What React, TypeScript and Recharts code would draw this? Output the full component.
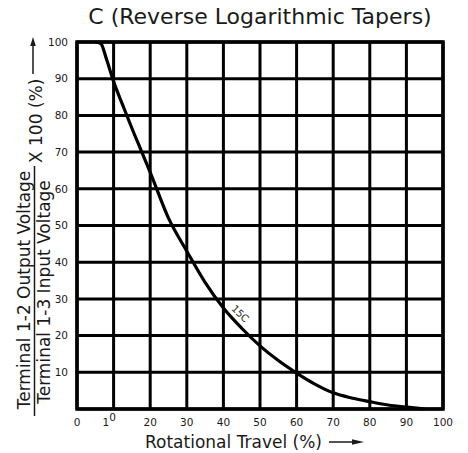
import React from "react";
import {
  LineChart,
  Line,
  XAxis,
  YAxis,
  CartesianGrid,
  ReferenceArea,
  ReferenceDot,
} from "recharts";

const travel = [5, 6.5, 8, 10, 12.5, 15, 17.5, 20, 25, 30, 35, 40, 45, 50, 55, 60, 65, 70, 75, 80, 85, 90, 95];
const output = [100, 99.6, 95.5, 89.2, 82.8, 76.5, 70.5, 64.5, 52, 43, 34.5, 27.5, 22, 17.2, 13.2, 9.8, 6.8, 4.4, 3.0, 2.0, 1.1, 0.5, 0];
const xTicks = [0, 10, 20, 30, 40, 50, 60, 70, 80, 90, 100];
const yTicks = [0, 10, 20, 30, 40, 50, 60, 70, 80, 90, 100];
const curveName = "15C";

const data = travel.map((x, i) => ({ x, y: output[i] }));

const FONT = "'DejaVu Sans', Verdana, sans-serif";
const INK = "#1a1a1a";

function XTick({ x, y, payload }: any) {
  if (payload.value === 10) {
    // the original prints this one as "1" with a raised "0"
    return (
      <text x={x - 11} y={y} dy="0.71em" fontSize={10.5} fontFamily={FONT} fill={INK}>
        1
        <tspan dy={-5}>0</tspan>
      </text>
    );
  }
  return (
    <text x={x} y={y} dy="0.71em" textAnchor="middle" fontSize={10.5} fontFamily={FONT} fill={INK}>
      {payload.value}
    </text>
  );
}

function YTick({ x, y, payload }: any) {
  if (payload.value === 0) return null;
  return (
    <text x={x} y={y} dy="0.355em" textAnchor="end" fontSize={10.5} fontFamily={FONT} fill={INK}>
      {payload.value}
    </text>
  );
}

function YLabel({ viewBox }: any) {
  const { x, y, height } = viewBox;
  const bottom = y + height;
  const t = (tx: number, ty: number) => `rotate(-90, ${tx}, ${ty})`;
  return (
    <g fontFamily={FONT} fontSize={17} fill={INK}>
      <text x={x + 13} y={bottom - 119} textAnchor="middle" transform={t(x + 13, bottom - 119)}>
        Terminal 1-2 Output Voltage
      </text>
      <line x1={x + 17.5} x2={x + 17.5} y1={bottom + 7} y2={bottom - 243} stroke={INK} strokeWidth={1.5} />
      <text x={x + 32.5} y={bottom - 117} textAnchor="middle" transform={t(x + 32.5, bottom - 117)}>
        Terminal 1-3 Input Voltage
      </text>
      <text x={x + 24.5} y={bottom - 246} textAnchor="start" transform={t(x + 24.5, bottom - 246)}>
        X 100 (%)
      </text>
      <line x1={x + 16} x2={x + 16} y1={y + 32} y2={y + 4} stroke={INK} strokeWidth={1.5} />
      <polygon points={`${x + 16},${y - 5} ${x + 13.2},${y + 4} ${x + 18.8},${y + 4}`} fill={INK} />
    </g>
  );
}

function XLabel({ viewBox }: any) {
  const { x, y } = viewBox;
  return (
    <g fontFamily={FONT} fill={INK}>
      <text x={x + 68} y={y + 39} fontSize={17}>
        Rotational Travel (%)
      </text>
      <line x1={x + 252} x2={x + 278} y1={y + 33} y2={y + 33} stroke={INK} strokeWidth={1.5} />
      <polygon points={`${x + 287},${y + 33} ${x + 275},${y + 30.3} ${x + 275},${y + 35.7}`} fill={INK} />
    </g>
  );
}

function CurveTag({ viewBox }: any) {
  const { x, y } = viewBox;
  return (
    <text
      x={x}
      y={y}
      textAnchor="middle"
      dominantBaseline="central"
      fontSize={10}
      fontFamily={FONT}
      fill={INK}
      transform={`rotate(44, ${x}, ${y})`}
    >
      {curveName}
    </text>
  );
}

export default function App() {
  return (
    <div style={{ position: "absolute", left: 0, top: 0, width: 468, height: 453, background: "#fff" }}>
      <div
        style={{
          position: "absolute",
          left: 77,
          width: 366,
          top: 6,
          textAlign: "center",
          fontFamily: FONT,
          fontSize: 22,
          lineHeight: "22px",
          color: INK,
          whiteSpace: "nowrap",
        }}
      >
        C (Reverse Logarithmic Tapers)
      </div>
      <LineChart width={468} height={453} data={data} margin={{ top: 42, right: 25, left: 17, bottom: 14 }}>
        <CartesianGrid stroke="#000" strokeWidth={3} />
        <XAxis
          type="number"
          dataKey="x"
          domain={[0, 100]}
          ticks={xTicks}
          height={30}
          axisLine={false}
          tickLine={false}
          tickSize={0}
          tickMargin={10}
          tick={XTick}
          label={XLabel}
        />
        <YAxis
          type="number"
          domain={[0, 100]}
          ticks={yTicks}
          width={60}
          axisLine={false}
          tickLine={false}
          tickSize={0}
          tickMargin={9}
          tick={YTick}
          label={YLabel}
        />
        <ReferenceArea x1={0} x2={100} y1={0} y2={100} fill="none" stroke="#000" strokeWidth={3.5} />
        <Line
          type="monotone"
          dataKey="y"
          stroke="#000"
          strokeWidth={3.2}
          dot={false}
          isAnimationActive={false}
        />
        <ReferenceDot x={44.6} y={26} r={0} fill="none" stroke="none" label={CurveTag} />
      </LineChart>
    </div>
  );
}
